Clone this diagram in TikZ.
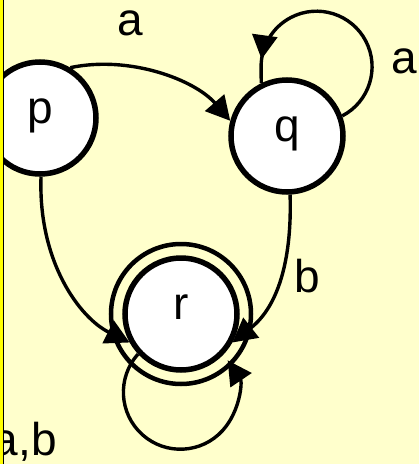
\documentclass[tikz,border=0pt]{standalone}
\usepackage{fontspec}
\setmainfont{Liberation Sans}
\usetikzlibrary{arrows.meta,calc,decorations.markings}
\definecolor{paleyellow}{RGB}{255,255,204}
\definecolor{rimyellow}{RGB}{255,255,0}

\begin{document}
\begin{tikzpicture}[
      x=1pt, y=-1pt,
      state/.style={circle, draw=black, fill=white, line width=5.5pt, minimum size=112pt, inner sep=0pt, font=\fontsize{46}{50}\selectfont, text height=25pt, text depth=14pt},
      ring/.style={draw=black, line width=4.5pt},
      arrow/.style={->, >={Triangle[length=24pt,width=25pt]}, line width=3.4pt},
      loopy/.style={line width=3.4pt, postaction={decorate}, decoration={markings, mark=at position -24pt with {\arrow{Triangle[length=24pt,width=25pt]}}}},
      lbl/.style={font=\fontsize{46}{50}\selectfont, inner sep=0pt, text height=25pt, text depth=0pt}
    ]
      \fill[paleyellow] (0,0) rectangle (419,464);
      \useasboundingbox (0,0) rectangle (419,464);

      \node[state] (p) at (40,118) {p};
      \node[state] (q) at (287,136) {q};
      \node[state] (r) at (181,314) {r};
      \draw[ring] (r.center) circle[radius=70pt];

      \draw[arrow] (p.59) .. controls (130,55) and (195,80) .. node[lbl, pos=0.33, above=29pt] (la) {a} (q.165);
      \draw[loopy] (q.20) arc[start angle=-62.5, end angle=180, radius=55.5pt] -- (q.116);
      \node[lbl, anchor=west] (lq) at (391,61) {a};
      \draw[arrow] (p.-89) .. controls (38,262) and (80,318) .. (r.209);
      \draw[arrow] (q.-87) .. controls (292,255) and (280,305) .. node[lbl, pos=0.52, right=14pt] (lb) {b} (r.-29);
      \draw[arrow] (r.223) arc[start angle=138, end angle=394, radius=57pt];
      \node[lbl, anchor=base east] (lab) at (57,455) {a,b};

      % left rim of the frame
      \fill[rimyellow] (0,0) rectangle (2.7,464);
      \fill[black] (2.7,0) rectangle (4.3,464);
    \end{tikzpicture}
\end{document}
